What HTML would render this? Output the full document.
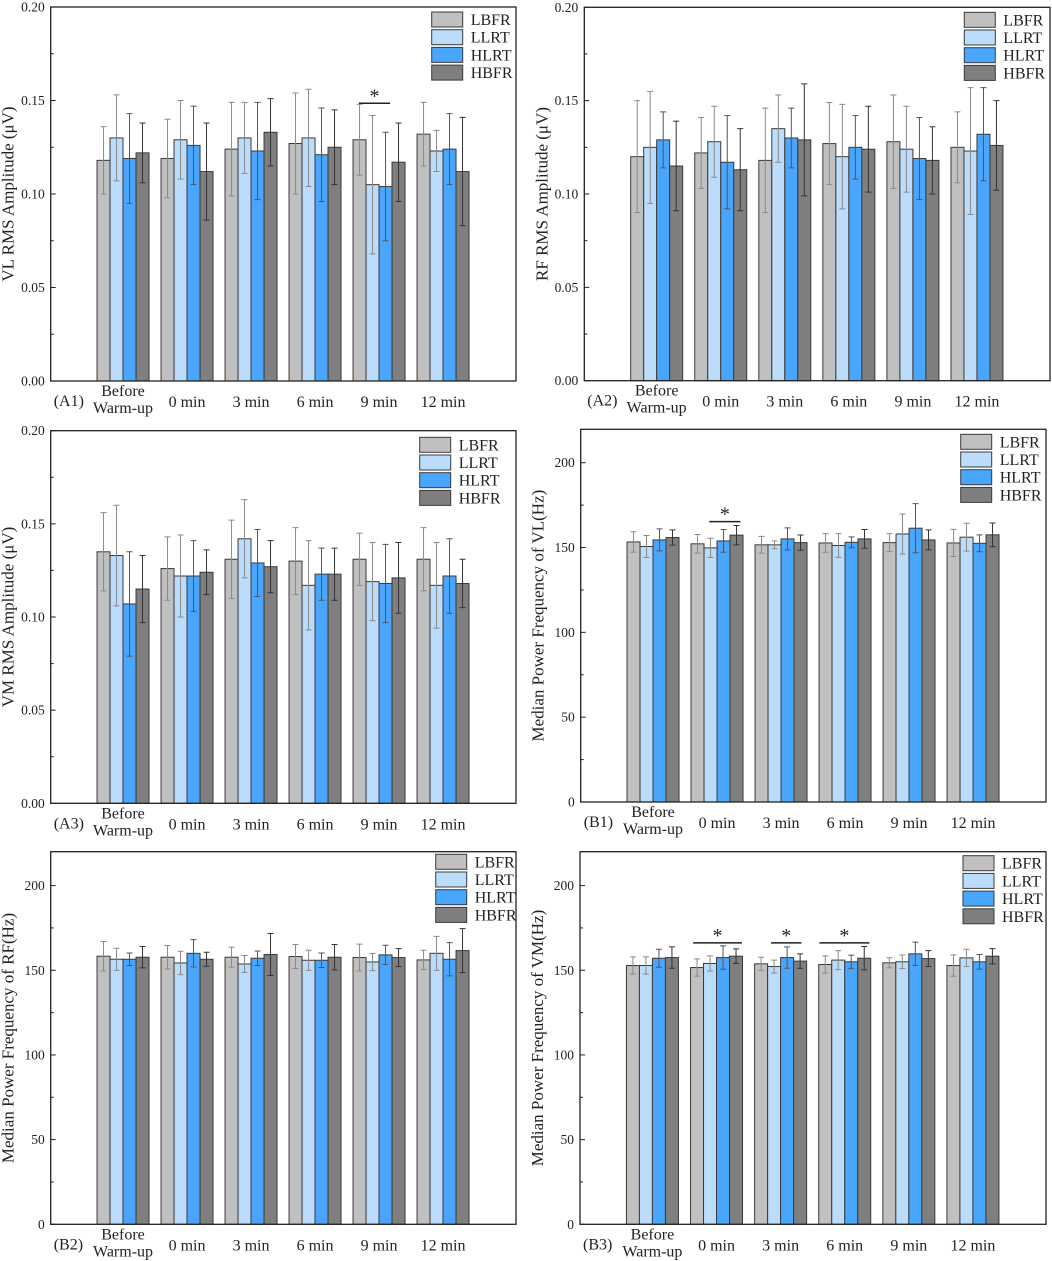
<!DOCTYPE html>
<html><head><meta charset="utf-8">
<style>
html,body{margin:0;padding:0;background:#fff;}
svg{display:block;font-family:"Liberation Serif",serif;}
</style></head>
<body>
<svg id="fig" width="1052" height="1261" viewBox="0 0 1052 1261" xmlns="http://www.w3.org/2000/svg"></svg>
<script>
const categories = ["Before|Warm-up","0 min","3 min","6 min","9 min","12 min"];
const seriesNames = ["LBFR","LLRT","HLRT","HBFR"];
// A1 VL RMS
const a1Mean = [[0.118,0.119,0.124,0.127,0.129,0.132],[0.130,0.129,0.130,0.130,0.105,0.123],[0.119,0.126,0.123,0.121,0.104,0.124],[0.122,0.112,0.133,0.125,0.117,0.112]];
const a1Sd = [[0.018,0.021,0.025,0.027,0.019,0.017],[0.023,0.021,0.019,0.026,0.037,0.011],[0.024,0.021,0.026,0.025,0.029,0.019],[0.016,0.026,0.018,0.020,0.021,0.029]];
// A2 RF RMS
const a2Mean = [[0.120,0.122,0.118,0.127,0.128,0.125],[0.125,0.128,0.135,0.120,0.124,0.123],[0.129,0.117,0.130,0.125,0.119,0.132],[0.115,0.113,0.129,0.124,0.118,0.126]];
const a2Sd = [[0.030,0.019,0.028,0.022,0.025,0.019],[0.030,0.019,0.018,0.028,0.023,0.034],[0.015,0.025,0.016,0.017,0.022,0.025],[0.024,0.022,0.030,0.023,0.018,0.024]];
// A3 VM RMS
const a3Mean = [[0.135,0.126,0.131,0.130,0.131,0.131],[0.133,0.122,0.142,0.117,0.119,0.117],[0.107,0.122,0.129,0.123,0.118,0.122],[0.115,0.124,0.127,0.123,0.121,0.118]];
const a3Sd = [[0.021,0.017,0.021,0.018,0.014,0.017],[0.027,0.022,0.021,0.024,0.021,0.023],[0.028,0.019,0.018,0.014,0.021,0.020],[0.018,0.012,0.014,0.014,0.019,0.013]];
// B1 VL MPF
const b1Mean = [[153.3,152.2,151.6,152.7,152.9,152.7],[150.6,149.8,151.6,151.2,158.0,156.1],[154.5,153.9,155.1,153.1,161.4,152.5],[155.9,157.3,152.9,155.1,154.5,157.5]];
const b1Sd = [[6.0,5.5,5.0,5.5,5.3,8.0],[6.5,5.7,2.3,7.0,11.8,8.2],[6.5,6.7,6.5,3.2,14.5,5.0],[4.5,5.7,4.5,5.5,5.9,7.0]];
// B2 RF MPF
const b2Mean = [[158.3,157.7,157.7,158.1,157.5,156.1],[156.5,154.3,153.7,155.9,154.9,160.0],[156.5,160.0,157.1,155.9,159.1,156.5],[157.7,156.5,159.3,157.7,157.5,161.6]];
const b2Sd = [[8.7,6.9,5.9,7.1,7.9,5.7],[6.5,6.9,5.0,5.9,5.1,10.0],[3.7,8.1,4.3,4.3,5.7,9.8],[6.3,4.1,12.4,7.5,5.3,13.0]];
// B3 VM MPF
const b3Mean = [[152.8,151.6,153.8,153.4,154.4,152.8],[152.8,154.0,152.2,156.0,155.0,157.3],[157.1,157.5,157.5,155.0,159.7,155.0],[157.5,158.3,155.4,157.1,156.9,158.3]];
const b3Sd = [[5.1,5.1,3.9,5.1,3.0,6.3],[5.1,4.5,3.8,5.6,4.0,5.1],[5.3,6.9,6.3,3.9,6.9,4.3],[6.3,4.3,4.3,6.9,4.7,4.5]];
const rmsTicks = [0,0.05,0.10,0.15,0.20];
const rmsTickLabels = ["0.00","0.05","0.10","0.15","0.20"];
const mpfTicks = [0,50,100,150,200];
const mpfTickLabels = ["0","50","100","150","200"];
// significance: [categoryIndex, fromSeriesPos, toSeriesPos, value]
const a1Sig = [[4,0.45,2.85,0.1485]];
const b1Sig = [[1,1.4,3.8,165.3]];
const b3Sig = [[1,0.2,3.95,166.2],[2,1.26,3.6,166.2],[3,0.05,3.9,166.2]];

const fills = ["#c0c0c0","#bbdcfb","#4aa5fd","#7f7f7f"];
const errCol = ["#8a8a8a","#8a8a8a","#555","#333"];
const NS = "http://www.w3.org/2000/svg";
const svg = document.getElementById("fig");
function mk(tag, attrs, parent){const e=document.createElementNS(NS,tag);for(const k in attrs)e.setAttribute(k,attrs[k]);(parent||svg).appendChild(e);return e;}

function panel(p){
  const g = mk("g",{});
  
  
  const L=p.l,R=p.r,T=p.t,B=p.b, W=R-L;
  const y = v => B - (v/p.max)*(B-T);
  const step = W/7.27;
  const xc = i => L + (i+1.13)*step;
  const bw = 13;
  const barX = (i,s) => xc(i) - 2*bw + s*bw;
  for(let s=0;s<4;s++){
    for(let i=0;i<categories.length;i++){
      const v=p.mean[s][i], sd=p.sd[s][i];
      const r=mk("rect",{x:barX(i,s),y:y(v),width:bw,height:B-y(v),fill:fills[s],stroke:"#3a3a3a","stroke-width":1},g);
      
      
      const cx=barX(i,s)+bw/2;
      const e=mk("path",{d:`M${cx},${y(v+sd)}V${y(v-sd)}M${cx-3},${y(v+sd)}H${cx+3}M${cx-3},${y(v-sd)}H${cx+3}`,stroke:errCol[s],"stroke-width":1,fill:"none"},g);
      
      
    }
  }
  const f=mk("rect",{x:L,y:T,width:W,height:B-T,fill:"none",stroke:"#222","stroke-width":1.3},g);
  
  
  for(let k=0;k<p.ticks.length;k++){
    const ty=y(p.ticks[k]);
    mk("line",{x1:L,x2:L+5,y1:ty,y2:ty,stroke:"#222","stroke-width":1},g);
    const t=mk("text",{x:L-6,y:ty+4.5,"text-anchor":"end","font-size":13.5,fill:"#222"},g);
    t.textContent=p.tickLabels[k];
    
    
    if(k<p.ticks.length-1){
      const my=y((p.ticks[k]+p.ticks[k+1])/2);
      mk("line",{x1:L,x2:L+3,y1:my,y2:my,stroke:"#222","stroke-width":1},g);
    }
  }
  const yt=mk("text",{x:0,y:0,"text-anchor":"middle","font-size":17,fill:"#222",transform:`translate(${L-37},${(T+B)/2}) rotate(-90)`},g);
  yt.textContent=p.title;
  
  
  for(let i=0;i<categories.length;i++){
    const parts=categories[i].split("|");
    if(parts.length===2){
      const a=mk("text",{x:xc(i),y:B+15,"text-anchor":"middle","font-size":16,fill:"#222"},g);a.textContent=parts[0];
      
      
      const b=mk("text",{x:xc(i),y:B+32,"text-anchor":"middle","font-size":16,fill:"#222"},g);b.textContent=parts[1];
      
      
    } else {
      const a=mk("text",{x:xc(i),y:B+26,"text-anchor":"middle","font-size":16,fill:"#222"},g);a.textContent=parts[0];
      
      
    }
  }
  const pl=mk("text",{x:L+3,y:B+25,"font-size":16,fill:"#222"},g);
  pl.textContent="("+p.id.toUpperCase()+")";
  
  
  for(let s=0;s<4;s++){
    const ly=T+p.legT+s*17.7;
    const lr=mk("rect",{x:L+p.legX,y:ly,width:31,height:15,fill:fills[s],stroke:"#3a3a3a","stroke-width":1},g);
    
    
    const lt=mk("text",{x:L+p.legX+39,y:ly+13,"font-size":16,fill:"#222"},g);
    lt.textContent=seriesNames[s];
    
    
  }
  for(const sg of p.sig){
    const x1=barX(sg[0],0)+sg[1]*bw, x2=barX(sg[0],0)+sg[2]*bw, sy=y(sg[3]);
    const ln=mk("line",{x1:x1,x2:x2,y1:sy,y2:sy,stroke:"#222","stroke-width":1.5},g);
    
    
    const st=mk("text",{x:(x1+x2)/2,y:sy-1,"text-anchor":"middle","font-size":20,fill:"#222"},g);
    st.textContent="*";
    
    
  }
}
panel({id:"a1",l:50.7,r:516,t:7,b:381,max:0.2,mean:a1Mean,sd:a1Sd,ticks:rmsTicks,tickLabels:rmsTickLabels,title:"VL RMS Amplitude (\u03bcV)",legX:381,legT:5,sig:a1Sig});
panel({id:"a2",l:584.3,r:1050,t:7.3,b:380.7,max:0.2,mean:a2Mean,sd:a2Sd,ticks:rmsTicks,tickLabels:rmsTickLabels,title:"RF RMS Amplitude (\u03bcV)",legX:380,legT:5,sig:[]});
panel({id:"a3",l:50.7,r:516,t:430.7,b:803.3,max:0.2,mean:a3Mean,sd:a3Sd,ticks:rmsTicks,tickLabels:rmsTickLabels,title:"VM RMS Amplitude (\u03bcV)",legX:369,legT:6.6,sig:[]});
panel({id:"b1",l:580.7,r:1046,t:429.3,b:802,max:219.7,mean:b1Mean,sd:b1Sd,ticks:mpfTicks,tickLabels:mpfTickLabels,title:"Median Power Frequency of  VL(Hz)",legX:380,legT:5,sig:b1Sig});
panel({id:"b2",l:50.7,r:516,t:851.7,b:1224.3,max:220,mean:b2Mean,sd:b2Sd,ticks:mpfTicks,tickLabels:mpfTickLabels,title:"Median Power Frequency of RF(Hz)",legX:385,legT:2.6,sig:[]});
panel({id:"b3",l:580,r:1046,t:851.7,b:1224.3,max:220,mean:b3Mean,sd:b3Sd,ticks:mpfTicks,tickLabels:mpfTickLabels,title:"Median Power Frequency of VM(Hz)",legX:383,legT:4,sig:b3Sig});
</script>
</body></html>
